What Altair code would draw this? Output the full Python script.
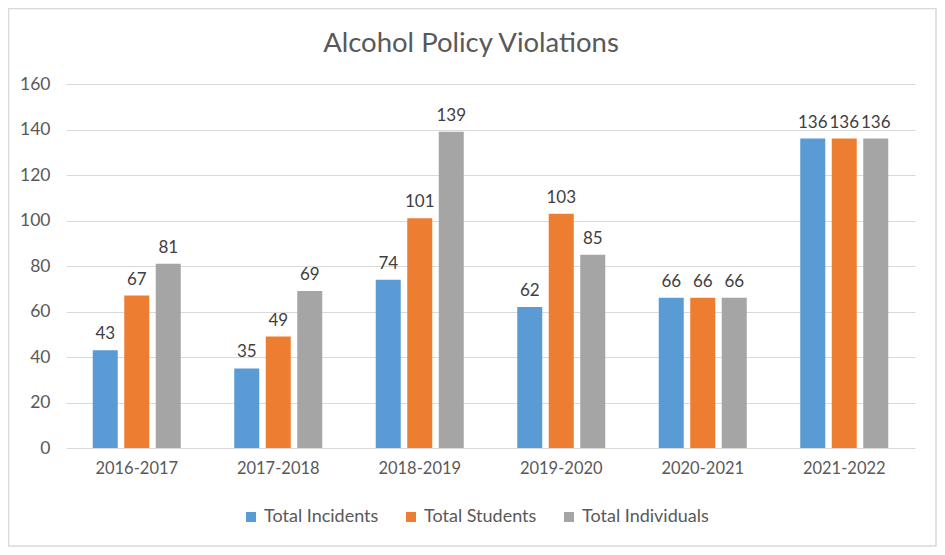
import altair as alt
import pandas as pd

years = ["2016-2017", "2017-2018", "2018-2019", "2019-2020", "2020-2021", "2021-2022"]
series = ["Total Incidents", "Total Students", "Total Individuals"]
incidents = [43, 35, 74, 62, 66, 136]
students = [67, 49, 101, 103, 66, 136]
individuals = [81, 69, 139, 85, 66, 136]
colors = ["#5b9bd5", "#ed7d31", "#a5a5a5"]
title_text = "Alcohol Policy Violations"

rows = []
for i, y in enumerate(years):
    for s, vals in zip(series, [incidents, students, individuals]):
        rows.append({"year": y, "series": s, "value": vals[i]})
df = pd.DataFrame(rows)

FONT = "Lato"
W, H = 849, 364

x_enc = alt.X("year:N", sort=years, title=None,
              scale=alt.Scale(paddingInner=0.378, paddingOuter=0.189),
              axis=alt.Axis(labelAngle=0, domain=False, ticks=False, labelPadding=12,
                            labelFontSize=16.5, labelColor="#595959", labelFont=FONT))
xoff = alt.XOffset("series:N", sort=series, scale=alt.Scale(paddingInner=0.206))
y_enc = alt.Y("value:Q", title=None,
              scale=alt.Scale(domain=[0, 160]),
              axis=alt.Axis(values=list(range(0, 161, 20)), domain=False, ticks=False,
                            labelPadding=16, labelFontSize=17.5, labelColor="#595959",
                            labelFont=FONT, gridColor="#d9d9d9", gridWidth=1))

bars = alt.Chart(df).mark_bar().encode(
    x=x_enc, xOffset=xoff, y=y_enc,
    color=alt.Color("series:N", sort=series,
                    scale=alt.Scale(domain=series, range=colors),
                    legend=alt.Legend(title=None, orient="none", direction="horizontal",
                                      legendX=176, legendY=424,
                                      symbolType="square", symbolSize=100,
                                      symbolStrokeWidth=0,
                                      labelFontSize=18, labelColor="#595959",
                                      labelFont=FONT, columnPadding=23, labelOffset=4)),
)

labels = alt.Chart(df).mark_text(dy=-7, baseline="bottom", fontSize=17,
                                 color="#404040", font=FONT).encode(
    x=alt.X("year:N", sort=years), xOffset=alt.XOffset("series:N", sort=series),
    y="value:Q", text="value:Q",
)

title = alt.Chart(pd.DataFrame({"t": [title_text]})).mark_text(
    fontSize=27.5, font=FONT, color="#595959", baseline="alphabetic", align="center"
).encode(x=alt.value(405), y=alt.value(-32), text="t:N")

border = alt.Chart(pd.DataFrame({"a": [0]})).mark_rect(
    fill=None, stroke="#d9d9d9", strokeWidth=1.5
).encode(x=alt.value(-57.5), x2=alt.value(870), y=alt.value(-75.5), y2=alt.value(462))

chart = alt.layer(border, bars, labels, title).properties(
    width=W, height=H,
    autosize=alt.AutoSizeParams(type="none"),
    padding={"left": 58, "top": 76, "right": 22, "bottom": 99},
).configure_view(stroke=None)

chart.save("out.html", embed_options={"renderer": "svg", "actions": False})
